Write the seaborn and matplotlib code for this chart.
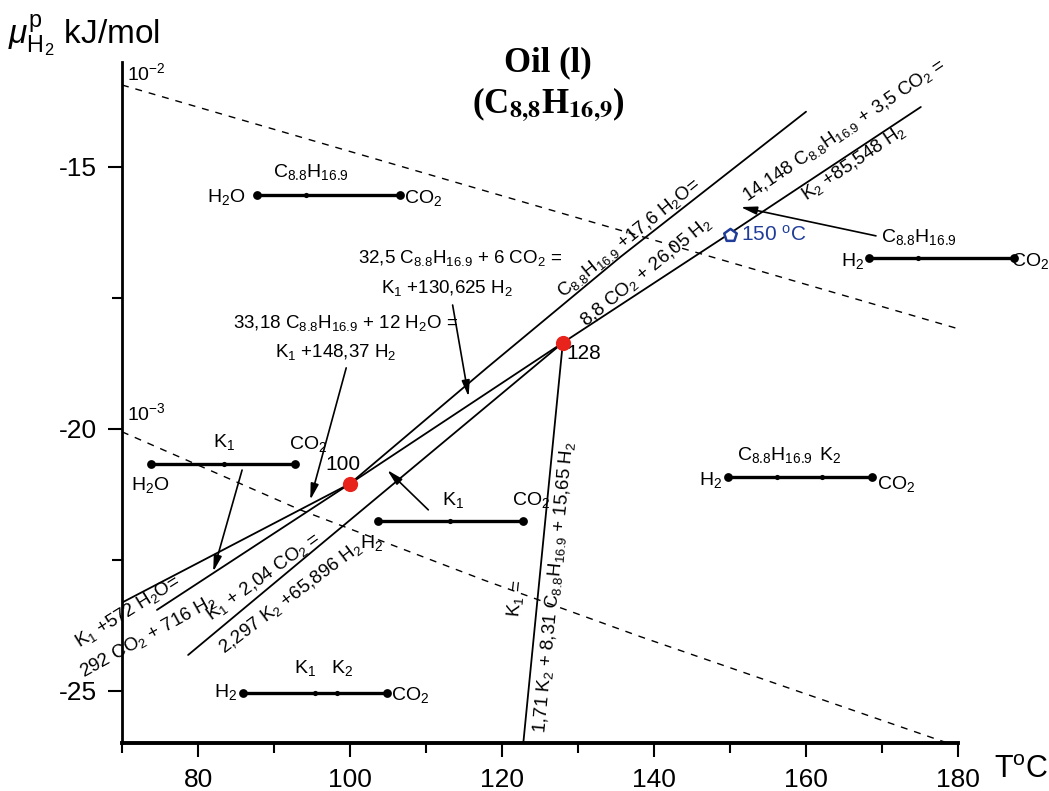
import matplotlib
matplotlib.use("Agg")
import matplotlib.pyplot as plt
import seaborn as sns
import pandas as pd

# ---------------- data (T in °C, chemical potential of H2 in kJ/mol) ----------------
# invariant points
inv_T = [100, 128]
inv_mu = [-21.05, -18.36]
inv_labels = ["100", "128"]

# univariant reaction lines
c_h2o_T = [100, 118, 135.6, 160]            # C + H2O = CO2 + H2
c_h2o_mu = [-21.05, -18.84, -16.72, -13.95]
c_co2_k1_T = [100, 128]                      # C + CO2 = K1 + H2
c_co2_k1_mu = [-21.05, -18.36]
c_h2o_k1_T = [100, 70]                       # C + H2O = K1 + H2
c_h2o_k1_mu = [-21.05, -23.32]
k1_h2o_T = [100, 74.6]                       # K1 + H2O = CO2 + H2
k1_h2o_mu = [-21.05, -23.46]
c_co2_k2_T = [128, 150, 175.1]               # C + CO2 = K2 + H2
c_co2_k2_mu = [-18.36, -16.27, -13.86]
k1_co2_k2_T = [128, 78.7]                    # K1 + CO2 = K2 + H2
k1_co2_k2_mu = [-18.36, -24.32]
k1_k2_c_T = [128, 122.8]                     # K1 = K2 + C + H2
k1_k2_c_mu = [-18.36, -26.0]

# water activity isolines
iso2_T = [70, 179.7]
iso2_mu = [-13.44, -18.08]
iso3_T = [70, 93.45, 117.6, 138.2, 178.6]
iso3_mu = [-20.06, -21.55, -22.89, -23.97, -26.0]

# 150 °C point
p150_T = [150]
p150_mu = [-16.30]

# phase-assemblage bars: ends and inner phases
bars = {
    "h2o_c_co2": dict(T=[87.8, 106.6], mu=-15.54, inner=[94.24]),
    "h2_c_co2": dict(T=[168.3, 187.3], mu=-16.74, inner=[174.7]),
    "h2o_k1_co2": dict(T=[73.8, 92.8], mu=-20.67, inner=[83.4]),
    "h2_k1_co2": dict(T=[103.7, 122.7], mu=-21.76, inner=[113.2]),
    "h2_c_k2_co2": dict(T=[149.7, 168.7], mu=-20.92, inner=[156.2, 162.1]),
    "h2_k1_k2_co2": dict(T=[85.9, 104.9], mu=-25.04, inner=[95.4, 98.3]),
}

x_major = [80, 100, 120, 140, 160, 180]
x_minor = [70, 90, 110, 130, 150, 170]
y_major = [-15, -20, -25]
y_minor = [-17.5, -22.5]

# ---------------- style ----------------
sns.set_theme(style="ticks")
plt.rcParams["font.family"] = ["Liberation Sans", "DejaVu Sans"]
plt.rcParams["mathtext.fontset"] = "custom"
plt.rcParams["mathtext.rm"] = "Liberation Sans"
plt.rcParams["mathtext.it"] = "Liberation Sans:italic"
plt.rcParams["mathtext.bf"] = "Liberation Sans:bold"
for k in ["text.color", "axes.labelcolor", "xtick.color", "ytick.color", "axes.edgecolor"]:
    plt.rcParams[k] = "black"

fig = plt.figure(figsize=(10.49, 7.91), dpi=100)
ax = fig.add_axes([0.1163, 0.0607, 0.797, 0.861])
ax.set_xlim(70, 180)
ax.set_ylim(-26, -13)

LW = 1.3


def line(T, mu, **kw):
    df = pd.DataFrame({"T": T, "mu": mu})
    sns.lineplot(data=df, x="T", y="mu", sort=False, estimator=None, ax=ax,
                 color="black", linewidth=kw.pop("lw", LW), **kw)
    return ax.lines[-1]


for T, mu in [(c_h2o_T, c_h2o_mu), (c_co2_k1_T, c_co2_k1_mu), (c_h2o_k1_T, c_h2o_k1_mu),
              (k1_h2o_T, k1_h2o_mu), (c_co2_k2_T, c_co2_k2_mu), (k1_co2_k2_T, k1_co2_k2_mu),
              (k1_k2_c_T, k1_k2_c_mu)]:
    line(T, mu)

for T, mu in [(iso2_T, iso2_mu), (iso3_T, iso3_mu)]:
    ln = line(T, mu, lw=1.0)
    ln.set_dashes((5, 5))

# assemblage bars
for key, b in bars.items():
    ln = line(b["T"], [b["mu"]] * 2, lw=2.4)
    ln.set_clip_on(False)
    ends = pd.DataFrame({"T": b["T"], "mu": [b["mu"]] * 2})
    sns.scatterplot(data=ends, x="T", y="mu", ax=ax, color="black", s=40,
                    linewidth=0, clip_on=False, zorder=4)
    inner = pd.DataFrame({"T": b["inner"], "mu": [b["mu"]] * len(b["inner"])})
    sns.scatterplot(data=inner, x="T", y="mu", ax=ax, color="black", s=14,
                    linewidth=0, clip_on=False, zorder=4)

# invariant points
sns.scatterplot(x=inv_T, y=inv_mu, ax=ax, color="#e8231c", s=120, linewidth=0, zorder=6)
for T, mu, lab in zip(inv_T, inv_mu, inv_labels):
    dx, dy = (-0.9, 0.36) if lab == "100" else (2.8, -0.2)
    ax.text(T + dx, mu + dy, lab, fontsize=15, ha="center", va="center")

# 150 °C
BLUE = "#1f3c98"
sns.scatterplot(x=p150_T, y=p150_mu, ax=ax, marker="p", s=90, facecolor="white",
                edgecolor=BLUE, linewidth=1.8, zorder=6)
ax.text(151.4, p150_mu[0], r"150 $\mathregular{^{o}}$C", color=BLUE, fontsize=15,
        ha="left", va="center")

# ---------------- axes ----------------
sns.despine(ax=ax)
ax.spines["left"].set_linewidth(2.0)
ax.spines["bottom"].set_linewidth(2.8)
ax.set_xticks(x_major)
ax.set_xticks(x_minor, minor=True)
ax.set_yticks(y_major)
ax.set_yticks(y_minor, minor=True)
ax.set_xticklabels([str(v) for v in x_major])
ax.set_yticklabels([str(v) for v in y_major])
ax.tick_params(which="major", direction="out", length=10, width=1.5, labelsize=19,
               pad=8, color="black")
ax.tick_params(which="minor", direction="out", length=7, width=1.5, color="black")
ax.set_xlabel("")
ax.set_ylabel("")

fig.text(0.999, 0.026, r"T$\mathregular{^{o}}$C", fontsize=22, ha="right", va="center")
fig.text(0.008, 0.955, r"$\mu^{\mathregular{p}}_{\mathregular{H_2}}$ kJ/mol",
         fontsize=24, ha="left", va="center")
ax.text(70.7, -13.34, r"10$\mathregular{^{-2}}$", fontsize=14, ha="left", va="baseline")
ax.text(70.7, -19.83, r"10$\mathregular{^{-3}}$", fontsize=14, ha="left", va="baseline")

fig.text(0.5224, 0.921, "Oil (l)", fontsize=25, fontweight="bold",
         family="Liberation Serif", ha="center", va="center")
fig.text(0.5224, 0.867, r"(C$_{\mathbf{8{,}8}}$H$_{\mathbf{16{,}9}}$)", fontsize=25,
         fontweight="bold", family="Liberation Serif", ha="center", va="center",
         math_fontfamily="stix")

# ---------------- reaction labels ----------------
FS = 13.5
C = r"C$\mathregular{_{8.8}}$H$\mathregular{_{16.9}}$"


def rlabel(T, mu, s, rot=0, fs=FS, **kw):
    ax.text(T, mu, s, fontsize=fs, rotation=rot, rotation_mode="anchor",
            ha="center", va="center", **kw)


rlabel(136.67, -16.36, C + r" +17,6 H$\mathregular{_2}$O=", 39)
rlabel(138.9, -17.01, r"8,8 CO$\mathregular{_2}$ + 26,05 H$\mathregular{_2}$", 39)
rlabel(165.0, -14.30, "14,148 " + C + r" + 3,5 CO$\mathregular{_2}$ =", 34)
rlabel(166.3, -14.93, r"K$\mathregular{_2}$ +85,548 H$\mathregular{_2}$", 34)
rlabel(114.5, -16.74, "32,5 " + C + r" + 6 CO$\mathregular{_2}$ =")
rlabel(112.8, -17.31, r"K$\mathregular{_1}$ +130,625 H$\mathregular{_2}$")
rlabel(99.4, -17.98, "33,18 " + C + r" + 12 H$\mathregular{_2}$O =")
rlabel(98.1, -18.53, r"K$\mathregular{_1}$ +148,37 H$\mathregular{_2}$")
rlabel(70.8, -23.50, r"K$\mathregular{_1}$ +572 H$\mathregular{_2}$O=", 32)
rlabel(73.4, -23.97, r"292 CO$\mathregular{_2}$ + 716 H$\mathregular{_2}$", 29)
rlabel(88.6, -22.82, r"K$\mathregular{_1}$ + 2,04 CO$\mathregular{_2}$ =", 36)
rlabel(92.1, -23.22, r"2,297 K$\mathregular{_2}$ +65,896 H$\mathregular{_2}$", 37)
rlabel(121.9, -23.23, r"K$\mathregular{_1}$ =", 84)
rlabel(126.9, -23.02, r"1,71 K$\mathregular{_2}$ + 8,31 " + C + r" + 15,65 H$\mathregular{_2}$", 84.5)

# ---------------- assemblage labels ----------------
lab = dict(fontsize=14, va="center")
ax.text(86.2, -15.58, r"H$\mathregular{_2}$O", ha="right", **lab)
ax.text(94.8, -15.10, C, ha="center", **lab)
ax.text(107.1, -15.60, r"CO$\mathregular{_2}$", ha="left", **lab)

ax.text(167.6, -16.80, r"H$\mathregular{_2}$", ha="right", **lab)
ax.text(174.9, -16.34, C, ha="center", **lab)
ax.text(187.0, -16.80, r"CO$\mathregular{_2}$", ha="left", **lab)

ax.text(83.4, -20.25, r"K$\mathregular{_1}$", ha="center", **lab)
ax.text(94.5, -20.29, r"CO$\mathregular{_2}$", ha="center", **lab)
ax.text(73.7, -21.07, r"H$\mathregular{_2}$O", ha="center", **lab)

ax.text(113.5, -21.36, r"K$\mathregular{_1}$", ha="center", **lab)
ax.text(123.8, -21.36, r"CO$\mathregular{_2}$", ha="center", **lab)
ax.text(102.9, -22.18, r"H$\mathregular{_2}$", ha="center", **lab)

ax.text(155.9, -20.50, C, ha="center", **lab)
ax.text(163.2, -20.50, r"K$\mathregular{_2}$", ha="center", **lab)
ax.text(148.9, -20.98, r"H$\mathregular{_2}$", ha="right", **lab)
ax.text(169.3, -21.05, r"CO$\mathregular{_2}$", ha="left", **lab)

ax.text(94.1, -24.56, r"K$\mathregular{_1}$", ha="center", **lab)
ax.text(99.0, -24.56, r"K$\mathregular{_2}$", ha="center", **lab)
ax.text(85.2, -25.02, r"H$\mathregular{_2}$", ha="right", **lab)
ax.text(105.4, -25.08, r"CO$\mathregular{_2}$", ha="left", **lab)

# ---------------- arrows ----------------
arrows = [((169.2, -16.32), (151.4, -15.77)),
          ((85.8, -20.79), (82.0, -22.73)),
          ((110.3, -21.55), (104.9, -20.79)),
          ((113.5, -17.64), (115.6, -19.39)),
          ((99.5, -18.84), (94.77, -21.36))]
for tail, head in arrows:
    ax.annotate("", xy=head, xytext=tail,
                arrowprops=dict(arrowstyle="-|>,head_length=0.8,head_width=0.2",
                                color="black", lw=1.2, shrinkA=0, shrinkB=0))

fig.savefig("out.png", dpi=100)
